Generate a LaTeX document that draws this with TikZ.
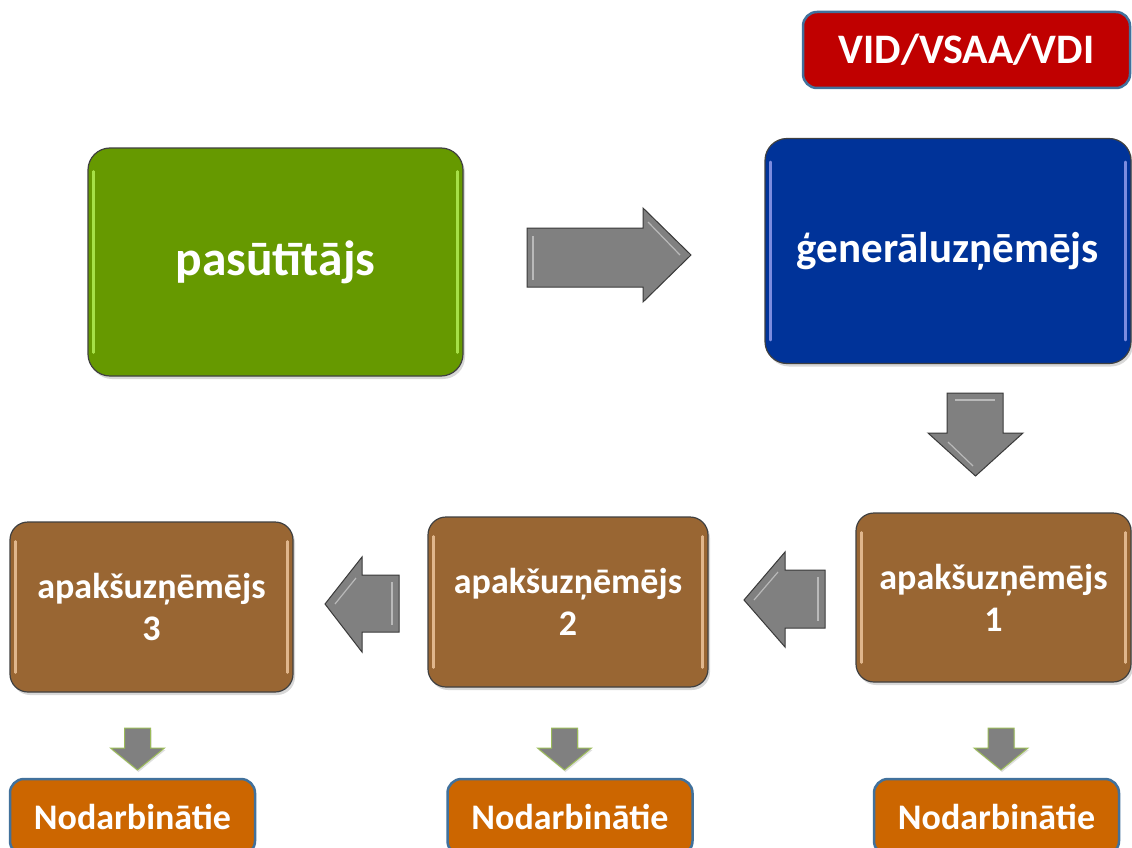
\documentclass[tikz,border=0pt]{standalone}
\usepackage{fontspec}
\setmainfont{Carlito}
\usetikzlibrary{shadows}
\definecolor{vidred}{HTML}{C00000}
\definecolor{edgeblue}{HTML}{41719C}
\definecolor{pasgreen}{HTML}{669900}
\definecolor{genblue}{HTML}{003399}
\definecolor{subbrown}{HTML}{996633}
\definecolor{empor}{HTML}{CC6600}
\definecolor{arrgray}{HTML}{808080}
\definecolor{arredge}{HTML}{3A3A3A}
\definecolor{smalledge}{HTML}{9BBB59}
\tikzset{
  bigbox/.style={draw=black!75, line width=1.2pt, rounded corners=22pt, text=white,
     font=\bfseries, align=center, inner sep=0pt,
     drop shadow={opacity=0.3, shadow xshift=2pt, shadow yshift=-3pt}},
  subbox/.style={bigbox, rounded corners=18pt, fill=subbrown, font=\bfseries\fontsize{36}{42}\selectfont},
  tagbox/.style={draw=edgeblue, line width=2.5pt, rounded corners=14pt, text=white,
     font=\bfseries\fontsize{36}{40}\selectfont, inner sep=0pt},
  bigarrow/.style={fill=arrgray, draw=arredge, line width=1pt, line join=miter},
  bevel/.style={draw=white, opacity=0.45, line width=1.2pt},
  smallarrow/.style={fill=arrgray, draw=smalledge, line width=1pt,
     drop shadow={opacity=0.25, shadow xshift=1pt, shadow yshift=-2pt}},
  gloss/.style={line width=2.5pt, line cap=round, opacity=0.7}
}
\begin{document}
\begin{tikzpicture}[x=1pt,y=-1pt]
\useasboundingbox (0,0) rectangle (1132,848);
\clip (0,0) rectangle (1132,848);
\fill[white] (0,0) rectangle (1132,848);

% top tag
\node[tagbox, fill=vidred, minimum width=327pt, minimum height=76pt,
      font=\bfseries\fontsize{42}{46}\selectfont] (vid) at (966.5,50) {VID/VSAA/VDI};

% main boxes
\node[bigbox, fill=pasgreen, minimum width=375pt, minimum height=228pt,
      font=\bfseries\fontsize{49.5}{54}\selectfont] (pas) at (275.5,262) {pasūtītājs};
\node[bigbox, fill=genblue, minimum width=366pt, minimum height=225pt,
      font=\bfseries\fontsize{43}{48}\selectfont] (gen) at (948,251) {ģenerāluzņēmējs};

\node[subbox, minimum width=283pt, minimum height=170pt] (a3) at (151.5,607) {apakšuzņēmējs\\3};
\node[subbox, minimum width=280pt, minimum height=170pt] (a2) at (568,602) {apakšuzņēmējs\\2};
\node[subbox, minimum width=275pt, minimum height=169pt] (a1) at (993.5,597.5) {apakšuzņēmējs\\1};

\node[tagbox, fill=empor, minimum width=245pt, minimum height=76pt] (n3) at (132.5,817) {Nodarbinātie};
\node[tagbox, fill=empor, minimum width=245pt, minimum height=76pt] (n2) at (570,817) {Nodarbinātie};
\node[tagbox, fill=empor, minimum width=245pt, minimum height=76pt] (n1) at (996.5,817) {Nodarbinātie};

% gloss highlights on the big boxes
\draw[gloss, draw=green!40!yellow!60!white] ([xshift=6pt,yshift=-24pt]pas.north west) -- ([xshift=6pt,yshift=24pt]pas.south west);
\draw[gloss, draw=green!40!yellow!60!white] ([xshift=-6pt,yshift=-24pt]pas.north east) -- ([xshift=-6pt,yshift=24pt]pas.south east);
\draw[gloss, draw=blue!30!white] ([xshift=6pt,yshift=-24pt]gen.north west) -- ([xshift=6pt,yshift=24pt]gen.south west);
\draw[gloss, draw=blue!30!white] ([xshift=-6pt,yshift=-24pt]gen.north east) -- ([xshift=-6pt,yshift=24pt]gen.south east);
\foreach \b in {a3,a2,a1}{
  \draw[gloss, draw=orange!30!white] ([xshift=6pt,yshift=-20pt]\b.north west) -- ([xshift=6pt,yshift=20pt]\b.south west);
  \draw[gloss, draw=orange!30!white] ([xshift=-6pt,yshift=-20pt]\b.north east) -- ([xshift=-6pt,yshift=20pt]\b.south east);
}

% big block arrows
\draw[bigarrow] (527,228) -- (643,228) -- (643,208) -- (691,255) -- (643,302) -- (643,287) -- (527,287) -- cycle;
\draw[bevel] (533,236) -- (533,280);
\draw[bevel] (648,222) -- (680,255);

\draw[bigarrow] (947,393) -- (1003,393) -- (1003,433) -- (1023,433) -- (975.5,476) -- (928,433) -- (947,433) -- cycle;
\draw[bevel] (955,400) -- (995,400);
\draw[bevel] (948,442) -- (973,466);

\draw[bigarrow] (325,604) -- (362,557) -- (362,575) -- (399,575) -- (399,632) -- (362,632) -- (362,652) -- cycle;
\draw[bevel] (392,582) -- (392,625);
\draw[bevel] (335,604) -- (356,578);

\draw[bigarrow] (744,600) -- (785,552) -- (785,570) -- (825,570) -- (825,628) -- (785,628) -- (785,647) -- cycle;
\draw[bevel] (818,577) -- (818,621);
\draw[bevel] (754,600) -- (778,572);

% small arrows
\foreach \c in {137.5,564.5,1001}{
  \draw[smallarrow] (\c-13,728) -- (\c+13,728) -- (\c+13,748) -- (\c+27,748) -- (\c,770) -- (\c-27,748) -- (\c-13,748) -- cycle;
}
\end{tikzpicture}
\end{document}
